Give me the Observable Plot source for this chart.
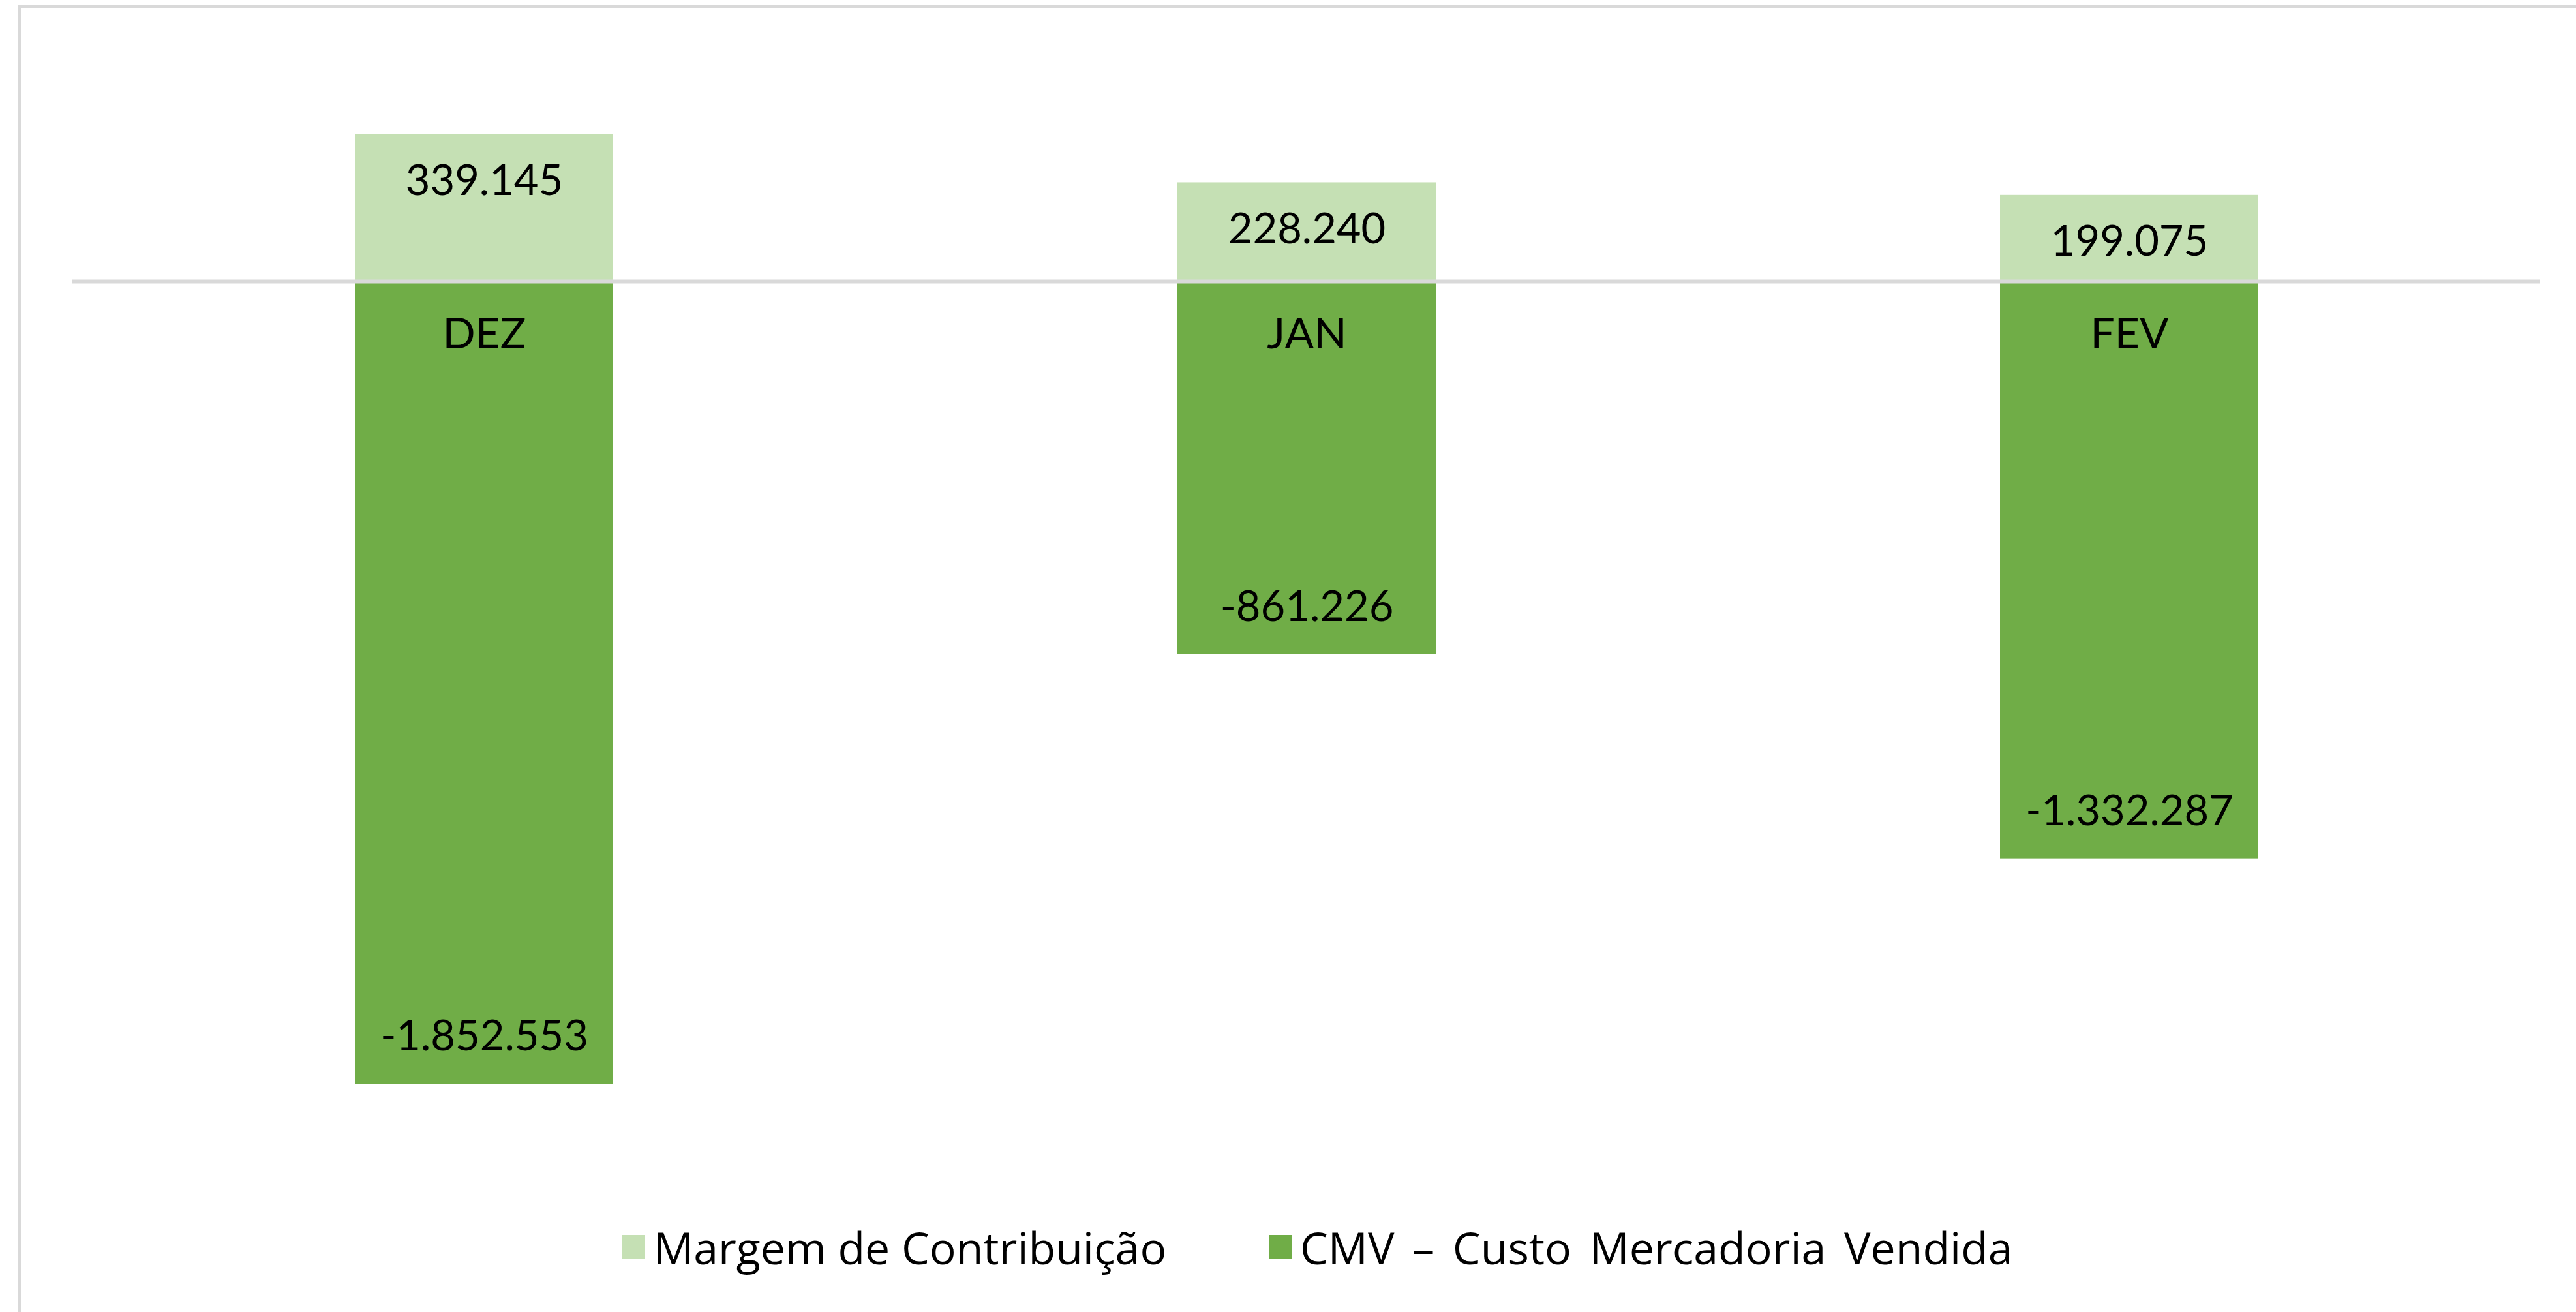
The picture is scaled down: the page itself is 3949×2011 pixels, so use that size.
<!DOCTYPE html>
<html>
<head>
<meta charset="utf-8">
<script src="https://cdn.jsdelivr.net/npm/d3@7"></script>
<script src="https://cdn.jsdelivr.net/npm/@observablehq/plot@0.6"></script>
<style>
  html, body { margin: 0; padding: 0; background: #fff; overflow: hidden; }
  body { width: 3949px; height: 2011px; position: relative; font-family: Lato, "Open Sans", sans-serif; }
  #frame { position: absolute; left: 27px; top: 7px; width: 4000px; height: 2100px;
           border-left: 5px solid #d9d9d9; border-top: 5px solid #d9d9d9; box-sizing: border-box; }
  #chart { position: absolute; left: 0; top: 0; }
  #legend { position: absolute; left: 954px; top: 1870px; height: 82px;
            display: flex; align-items: center;
            font-family: "Open Sans", sans-serif; font-size: 68px; color: #000; white-space: nowrap; }
  .item { display: flex; align-items: center; }
  .item:first-child { min-width: 991px; }
  .item:last-child span { word-spacing: 10px; }
  .swatch { width: 35px; height: 36px; margin-right: 13px; }
</style>
</head>
<body>
<div id="frame"></div>
<div id="chart"></div>
<div id="legend"></div>
<script>
const months = ["DEZ", "JAN", "FEV"];
const seriesNames = ["Margem de Contribuição", "CMV – Custo Mercadoria Vendida"];
const seriesColors = ["#c5e0b4", "#70ad47"];
const margem = [339145, 228240, 199075];
const cmv = [-1852553, -861226, -1332287];

const data = [];
months.forEach((m, i) => {
  data.push({month: m, series: seriesNames[0], value: margem[i]});
  data.push({month: m, series: seriesNames[1], value: cmv[i]});
});

const locale = d3.formatLocale({decimal: ",", thousands: ".", grouping: [3], currency: ["R$", ""], minus: "-"});
const fmt = locale.format(",d");

const W = 3949, H = 1850;
const chart = Plot.plot({
  width: W,
  height: H,
  marginLeft: 111,
  marginRight: 55,
  marginTop: 99,
  marginBottom: 91,
  style: {fontFamily: "Lato, 'Open Sans', sans-serif", background: "transparent"},
  x: {domain: months, paddingInner: 0.686, paddingOuter: 0.343, axis: null},
  y: {domain: [-2000000, 500000], axis: null},
  color: {domain: seriesNames, range: seriesColors},
  marks: [
    Plot.barY(data, {x: "month", y: "value", fill: "series"}),
    Plot.ruleY([0], {stroke: "#d9d9d9", strokeWidth: 6}),
    Plot.text(data.filter(d => d.value >= 0), {x: "month", y: "value", text: d => fmt(d.value), dy: 72, fontSize: 65, fill: "#000"}),
    Plot.text(data.filter(d => d.value < 0), {x: "month", y: "value", text: d => fmt(d.value), dy: -72, fontSize: 65, fill: "#000"}),
    Plot.text(months, {x: d => d, y: () => 0, text: d => d, dy: 81, fontSize: 66, fill: "#000"})
  ]
});
document.getElementById("chart").appendChild(chart);

const legend = document.getElementById("legend");
seriesNames.forEach((name, i) => {
  const item = document.createElement("div");
  item.className = "item";
  const sw = document.createElement("div");
  sw.className = "swatch";
  sw.style.background = seriesColors[i];
  const lab = document.createElement("span");
  lab.textContent = name;
  item.appendChild(sw);
  item.appendChild(lab);
  legend.appendChild(item);
});
</script>
</body>
</html>
